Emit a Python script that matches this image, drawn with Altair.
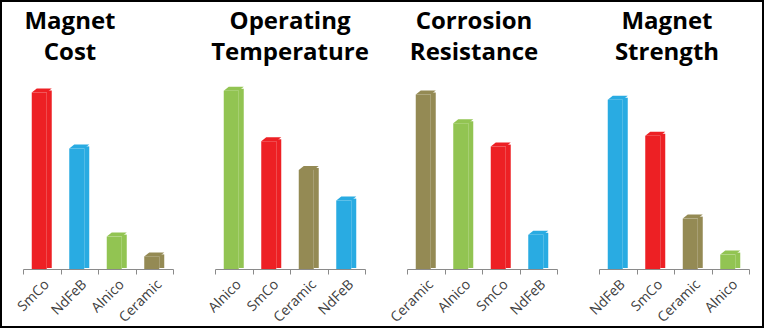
import altair as alt
import pandas as pd

# ---- data ----
panel_titles = ["Magnet\nCost", "Operating\nTemperature",
                "Corrosion\nResistance", "Magnet\nStrength"]
panel_categories = [["SmCo", "NdFeB", "Alnico", "Ceramic"],
                    ["Alnico", "SmCo", "Ceramic", "NdFeB"],
                    ["Ceramic", "Alnico", "SmCo", "NdFeB"],
                    ["NdFeB", "SmCo", "Ceramic", "Alnico"]]
panel_values = [[98, 67, 18, 7],
                [99, 71, 55, 38],
                [97, 81, 68, 19],
                [94, 74, 28, 8]]

materials = ["SmCo", "NdFeB", "Alnico", "Ceramic"]
front_colors = ["#ED2024", "#29ABE2", "#92C452", "#948A54"]
side_colors = ["#B8181C", "#1C7BA6", "#6C9A37", "#6B6339"]
top_colors = ["#F25A5E", "#6CC6EC", "#AED67A", "#ADA472"]

title_dx = [-28, 0, -8, -7]

W = 150
H = 180
TOP_SHAPE = "M -1 0.2 L 0.5 0.2 L 1 -0.2 L -0.5 -0.2 Z"


def panel(i):
    df = pd.DataFrame({"material": panel_categories[i], "value": panel_values[i]})
    x = alt.X("material:N", sort=panel_categories[i],
              scale=alt.Scale(paddingInner=0, paddingOuter=0),
              axis=alt.Axis(title=None, labelAngle=-45, labelFont="Open Sans",
                            labelFontSize=14, labelColor="#404040",
                            domainColor="#8a8a8a", tickColor="#8a8a8a",
                            tickSize=5, tickBand="extent", labelPadding=3))
    y = alt.Y("value:Q", scale=alt.Scale(domain=[0, 100]), axis=None)

    def col(rng):
        return alt.Color("material:N", scale=alt.Scale(domain=materials, range=rng),
                         legend=None)

    base = alt.Chart(df)
    front = base.mark_bar(size=15, xOffset=-2.5).encode(
        x=x, y=y, y2=alt.value(H + 3), color=col(front_colors))
    side = base.mark_bar(size=5, xOffset=7.5, yOffset=-2, y2Offset=-1).encode(
        x=x, y=y, y2=alt.value(H + 3), color=col(side_colors))
    top = base.mark_point(shape=TOP_SHAPE, size=400, filled=True, opacity=1,
                          strokeWidth=0, yOffset=-2).encode(
        x=x, y=y, color=col(top_colors))
    title = alt.Chart(pd.DataFrame({"t": [panel_titles[i]]})).mark_text(
        font="Open Sans", fontSize=24, fontWeight="bold", lineHeight=31,
        lineBreak="\n", align="center", baseline="alphabetic", color="black"
    ).encode(text="t:N", x=alt.value(W / 2 + title_dx[i]), y=alt.value(-60))
    layers = [front, side, top, title]
    if i == 0:
        frame = alt.Chart(pd.DataFrame({"f": [0]})).mark_rect(
            filled=False, stroke="black", strokeWidth=2, clip=False).encode(
            x=alt.value(-22), x2=alt.value(740), y=alt.value(-88), y2=alt.value(238))
        layers.append(frame)
    return alt.layer(*layers).properties(width=W, height=H)


chart = alt.hconcat(*[panel(i) for i in range(4)], spacing=42, bounds="flush").properties(
    padding=0, background="white"
).configure_view(stroke=None)

chart.save("out.html", embed_options={"renderer": "svg", "actions": False})
